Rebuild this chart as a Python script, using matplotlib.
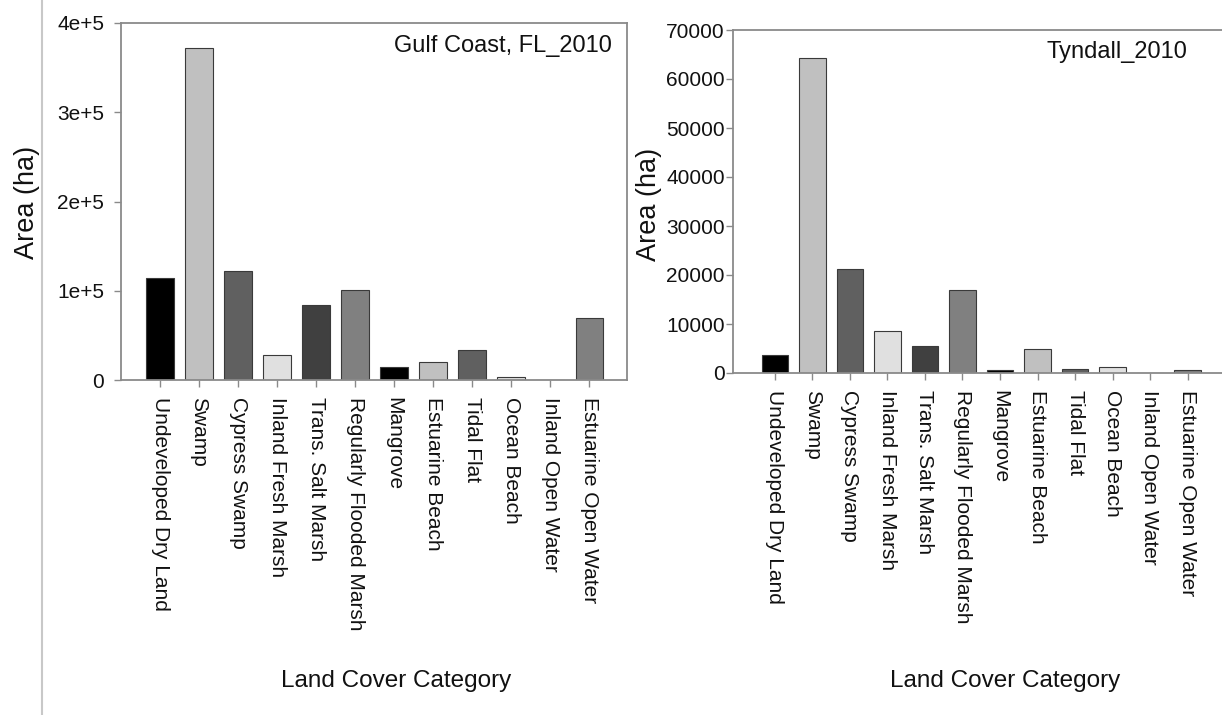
"""
Land cover area by category, Gulf Coast FL vs Tyndall (2010)
"""
import matplotlib
matplotlib.use("Agg")
import matplotlib.pyplot as plt
from matplotlib.lines import Line2D

plt.rcParams['font.family'] = ['Liberation Sans', 'DejaVu Sans']

# categories along the x axis
categories = ["Undeveloped Dry Land", "Swamp", "Cypress Swamp", "Inland Fresh Marsh",
              "Trans. Salt Marsh", "Regularly Flooded Marsh", "Mangrove",
              "Estuarine Beach", "Tidal Flat", "Ocean Beach", "Inland Open Water",
              "Estuarine Open Water"]

# area in ha
gulf_area = [114000, 372000, 122000, 28000, 84000, 101000, 15000, 20500, 34000, 3000, 300, 70000]
tyndall_area = [3600, 64200, 21300, 8580, 5450, 16900, 680, 4830, 750, 1230, 50, 700]

gulf_yticks = [0, 100000, 200000, 300000, 400000]
gulf_yticklabels = ["0", "1e+5", "2e+5", "3e+5", "4e+5"]
tyndall_yticks = [0, 10000, 20000, 30000, 40000, 50000, 60000, 70000]

# greys cycle every 6 bars
greys = ["#000000", "#c0c0c0", "#606060", "#e0e0e0", "#404040", "#808080"]
bar_colors = [greys[i % 6] for i in range(len(categories))]

W, H = 1222, 715
fig = plt.figure(figsize=(W / 100, H / 100), dpi=100)

# axes boxes in pixel units -> figure fraction
def box(l, r, t, b):
    return [l / W, (H - b) / H, (r - l) / W, (b - t) / H]

ax1 = fig.add_axes(box(121, 627, 23, 380))
ax2 = fig.add_axes(box(733, 1222, 30, 373))

x = list(range(len(categories)))
spine_col = "#8a8a8a"

for ax, vals in ((ax1, gulf_area), (ax2, tyndall_area)):
    ax.bar(x, vals, width=0.7, color=bar_colors, edgecolor="#3a3a3a", linewidth=0.8, zorder=2)
    ax.set_xticks(x)
    ax.set_xticklabels(categories, rotation=-90, fontsize=15, color="#111111")
    for s in ax.spines.values():
        s.set_color(spine_col)
        s.set_linewidth(1.3)
    ax.tick_params(axis="x", direction="out", length=5, width=1, color=spine_col, pad=7)
    ax.tick_params(axis="y", direction="out", length=5, width=1, color=spine_col,
                   labelsize=15, labelcolor="#111111")

ax1.set_xlim(-1.0, 11.97)
ax1.set_ylim(0, 400000)
ax1.set_yticks(gulf_yticks)
ax1.set_yticklabels(gulf_yticklabels)
ax1.tick_params(axis="y", pad=7)
ax1.text(0.97, 0.935, "Gulf Coast, FL_2010", transform=ax1.transAxes,
         ha="right", va="center", fontsize=17, color="#111111")

ax2.set_xlim(-1.12, 11.92)
ax2.set_ylim(0, 70000)
ax2.set_yticks(tyndall_yticks)
ax2.set_yticklabels([str(v) for v in tyndall_yticks])
ax2.tick_params(axis="y", pad=1)
ax2.spines["right"].set_visible(False)
ax2.text(0.93, 0.935, "Tyndall_2010", transform=ax2.transAxes,
         ha="right", va="center", fontsize=17, color="#111111")

# axis titles
fig.text(27 / W, 1 - 202 / H, "Area (ha)", rotation=90, ha="center", va="center",
         fontsize=19.5, color="#111111")
fig.text(649 / W, 1 - 204 / H, "Area (ha)", rotation=90, ha="center", va="center",
         fontsize=19.5, color="#111111")
fig.text(396 / W, 1 - 681 / H, "Land Cover Category", ha="center", va="center",
         fontsize=17.5, color="#111111")
fig.text(1005 / W, 1 - 681 / H, "Land Cover Category", ha="center", va="center",
         fontsize=17.5, color="#111111")

# page border line on the left
fig.add_artist(Line2D([42 / W, 42 / W], [0, 1], transform=fig.transFigure,
                      color="#c8c8c8", linewidth=1.5))

fig.savefig("out.png", dpi=100)
